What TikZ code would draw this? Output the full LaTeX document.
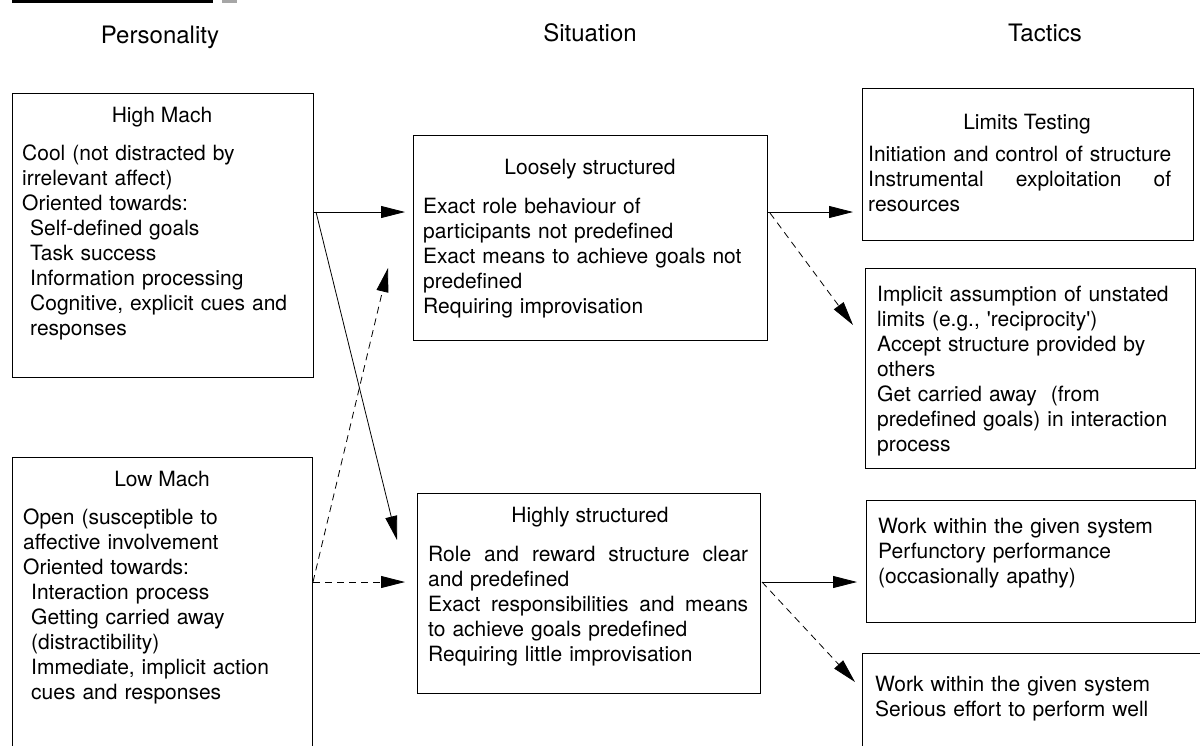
\documentclass[tikz,border=0pt]{standalone}
\usepackage{fontspec}
\setmainfont{TeX Gyre Heros}
\usetikzlibrary{arrows.meta}
\newcommand\bodyfont{\fontsize{21}{25}\selectfont\parindent=0pt\parskip=0pt\hyphenpenalty=10000\exhyphenpenalty=10000}
\newcommand\headfont{\fontsize{24}{28}\selectfont}
\begin{document}
\begin{tikzpicture}[x=1pt,y=-1pt,
  box/.style={draw, line width=1.2pt, rectangle, inner sep=0pt, anchor=north west},
  body/.style={anchor=north west, inner sep=0pt, font=\bodyfont, align=left},
  ttl/.style={anchor=base, inner sep=0pt, font=\bodyfont},
  hdr/.style={anchor=base, inner sep=0pt, font=\headfont},
  arr/.style={line width=0.8pt, -{Triangle[length=24pt,width=12pt]}},
  darr/.style={arr, dash pattern=on 7pt off 5pt}]
\useasboundingbox (0,0) rectangle (1200,745);
\clip (0,0) rectangle (1200,745);
% top rule
\draw[line width=3pt] (12,1.5) -- (213,1.5);
\draw[line width=3pt, black!35] (222,1.5) -- (237,1.5);
% headers
\node[hdr] (hp) at (160,43) {Personality};
\node[hdr] (hsit) at (590,41) {Situation};
\node[hdr] (htac) at (1045,41) {Tactics};
% boxes
\node[box, minimum width=301pt, minimum height=284pt] (hm) at (12,93) {};
\node[box, minimum width=300pt, minimum height=330pt] (lm) at (12,457) {};
\node[box, minimum width=354pt, minimum height=205pt] (ls) at (413,135) {};
\node[box, minimum width=343pt, minimum height=200pt] (hs) at (417,493) {};
\node[box, minimum width=331pt, minimum height=152pt] (lt) at (862,88) {};
\node[box, minimum width=330pt, minimum height=200pt] (im) at (865,268) {};
\node[box, minimum width=329pt, minimum height=122pt] (w1) at (866,500) {};
\node[box, minimum width=360pt, minimum height=140pt] (w2) at (862,653) {};
% titles
\node[ttl] (hmT) at (162,122) {High Mach};
\node[ttl] (lmT) at (162,486) {Low Mach};
\node[ttl] (lsT) at (590,174) {Loosely structured};
\node[ttl] (hsT) at (590,522) {Highly structured};
\node[ttl] (ltT) at (1027,129) {Limits Testing};
% bodies
\node[body, text width=285pt] (hmB) at (22,142.5) {\strut Cool (not distracted by\\
irrelevant affect)\\
Oriented towards:\\
\hspace*{8pt}Self-defined goals\\
\hspace*{8pt}Task success\\
\hspace*{8pt}Information processing\\
\hspace*{8pt}Cognitive, explicit cues and\\
\hspace*{8pt}responses};
\node[body, text width=285pt] (lmB) at (23,506.5) {\strut Open (susceptible to\\
affective involvement\\
Oriented towards:\\
\hspace*{8pt}Interaction process\\
\hspace*{8pt}Getting carried away\\
\hspace*{8pt}(distractibility)\\
\hspace*{8pt}Immediate, implicit action\\
\hspace*{8pt}cues and responses};
\node[body, text width=340pt] (lsB) at (423,195.5) {\strut Exact role behaviour of\\
participants not predefined\\
Exact means to achieve goals not\\
predefined\\
Requiring improvisation};
\node[body, text width=320pt] (hsB) at (428,543.5) {\strut Role\hfill and\hfill reward\hfill structure\hfill clear\\
and predefined\\
Exact\hfill responsibilities\hfill and\hfill means\\
to achieve goals predefined\\
Requiring little improvisation};
\node[body, text width=322pt] (ltB) at (868,143.5) {\strut\setbox0\hbox{Initiation and control of structure}\copy0\\
\leavevmode\hbox to\wd0{Instrumental\hfill exploitation\hfill of}\\
resources};
\node[body, text width=310pt] (imB) at (877,283.5) {\strut Implicit assumption of unstated\\
limits (e.g., \textquotesingle reciprocity\textquotesingle)\\
Accept structure provided by\\
others\\
Get carried away~ (from\\
predefined goals) in interaction\\
process};
\node[body, text width=310pt] (w1B) at (878,515.5) {\strut Work within the given system\\
Perfunctory performance\\
(occasionally apathy)};
\node[body, text width=310pt] (w2B) at (875,673.5) {\strut Work within the given system\\
Serious effort to perform well};
% connector end points
\coordinate (hmOut) at (313,212);
\coordinate (hmDiag) at (316,212);
\coordinate (lsIn) at (405,212);
\coordinate (hsInA) at (397,540);
\coordinate (lsOut) at (767,212);
\coordinate (lsOutD) at (770,213);
\coordinate (ltIn) at (853,212);
\coordinate (imIn) at (853,325);
\coordinate (lmOut) at (313,582);
\coordinate (lsInD) at (388,268);
\coordinate (hsIn) at (405,582);
\coordinate (hsOut) at (762,582);
\coordinate (w1In) at (857,582);
\coordinate (w2In) at (855,682);
% connectors
\draw[arr] (hmOut) -- (lsIn);
\draw[arr] (hmDiag) -- (hsInA);
\draw[arr] (lsOut) -- (ltIn);
\draw[darr] (lsOutD) -- (imIn);
\draw[darr] (lmOut) -- (lsInD);
\draw[darr] (lmOut) -- (hsIn);
\draw[arr] (hsOut) -- (w1In);
\draw[darr] (hsOut) -- (w2In);
\end{tikzpicture}
\end{document}
